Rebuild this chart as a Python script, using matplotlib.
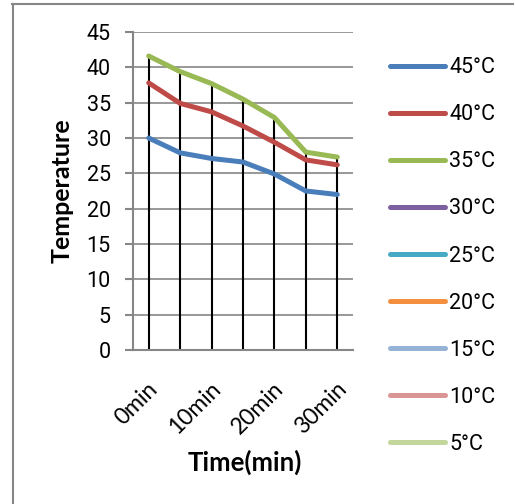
import matplotlib
matplotlib.use("Agg")
import matplotlib.pyplot as plt
import matplotlib.transforms as mtransforms
from matplotlib.lines import Line2D

times = ["0min", "5min", "10min", "15min", "20min", "25min", "30min"]
t45 = [30.0, 27.9, 27.1, 26.6, 24.9, 22.5, 22.0]
t40 = [37.8, 34.9, 33.7, 31.7, 29.4, 26.9, 26.2]
t35 = [41.6, 39.4, 37.7, 35.5, 32.9, 28.0, 27.3]
labels = ["45°C", "40°C", "35°C", "30°C", "25°C", "20°C", "15°C", "10°C", "5°C"]
colors = ["#4A7EBB", "#BE4B48", "#98B954", "#7D60A0", "#46AAC5",
          "#F38F3F", "#95B3D7", "#D99694", "#C3D69B"]
series = [t45, t40, t35, [], [], [], [], [], []]

narrow = ["Liberation Sans Narrow", "Roboto", "DejaVu Sans"]
calib = ["Lato", "DejaVu Sans"]
grey = "#868686"

fig = plt.figure(figsize=(5.15, 5.04), dpi=100)
ax = fig.add_axes([133 / 515, 1 - 350 / 504, 220 / 515, 318 / 504])

x = list(range(len(times)))
tops = [max(v) for v in zip(t45, t40, t35)]
ax.vlines(x, 0, tops, color="black", lw=1.5, zorder=2)

for vals, lab, c in zip(series, labels, colors):
    ax.plot(x[:len(vals)], vals, color=c, lw=3.6, label=lab, zorder=3,
            solid_capstyle="round", solid_joinstyle="round")

ax.set_xlim(-0.5, 6.5)
ax.set_ylim(0, 45)
ax.set_yticks(range(0, 46, 5))
ax.grid(axis="y", color=grey, lw=1.2)
ax.set_axisbelow(True)
for s in ["top", "right"]:
    ax.spines[s].set_visible(False)
for s in ["left", "bottom"]:
    ax.spines[s].set_color(grey)
    ax.spines[s].set_linewidth(1.5)
ax.tick_params(axis="y", length=6, width=1.5, color=grey, pad=10)
ax.tick_params(axis="x", length=0, pad=25.5)
for t in ax.get_yticklabels():
    t.set_family(narrow)
    t.set_fontsize(15.5)

ax.set_xticks(x[::2])
ax.set_xticklabels(times[::2], rotation=45, ha="right", va="center",
                   rotation_mode="anchor", family=calib, fontsize=16.5)
off = mtransforms.ScaledTranslation(6 / 100, 0, fig.dpi_scale_trans)
for t in ax.get_xticklabels():
    t.set_transform(t.get_transform() + off)

fig.text(245 / 515, 1 - 462 / 504, "Time(min)", ha="center", va="center",
         family=calib, fontsize=18.5, fontweight="bold")
fig.text(62 / 515, 1 - 191 / 504, "Temperature", ha="center", va="center",
         rotation=90, family=calib, fontsize=18, fontweight="bold")

fig.legend(loc="center left", bbox_to_anchor=(390 / 515, 1 - 256 / 504),
           frameon=False, prop={"family": narrow, "size": 15.5},
           handlelength=2.55, handletextpad=0.2, labelspacing=1.21,
           borderpad=0, borderaxespad=0)

fig.add_artist(Line2D([12.5 / 515, 12.5 / 515], [0, 1 - 4 / 504],
                      transform=fig.transFigure, color=grey, lw=1.5))
fig.add_artist(Line2D([12 / 515, 513 / 515], [1 - 4 / 504, 1 - 4 / 504],
                      transform=fig.transFigure, color=grey, lw=1.5))

fig.savefig("out.png", dpi=100)
